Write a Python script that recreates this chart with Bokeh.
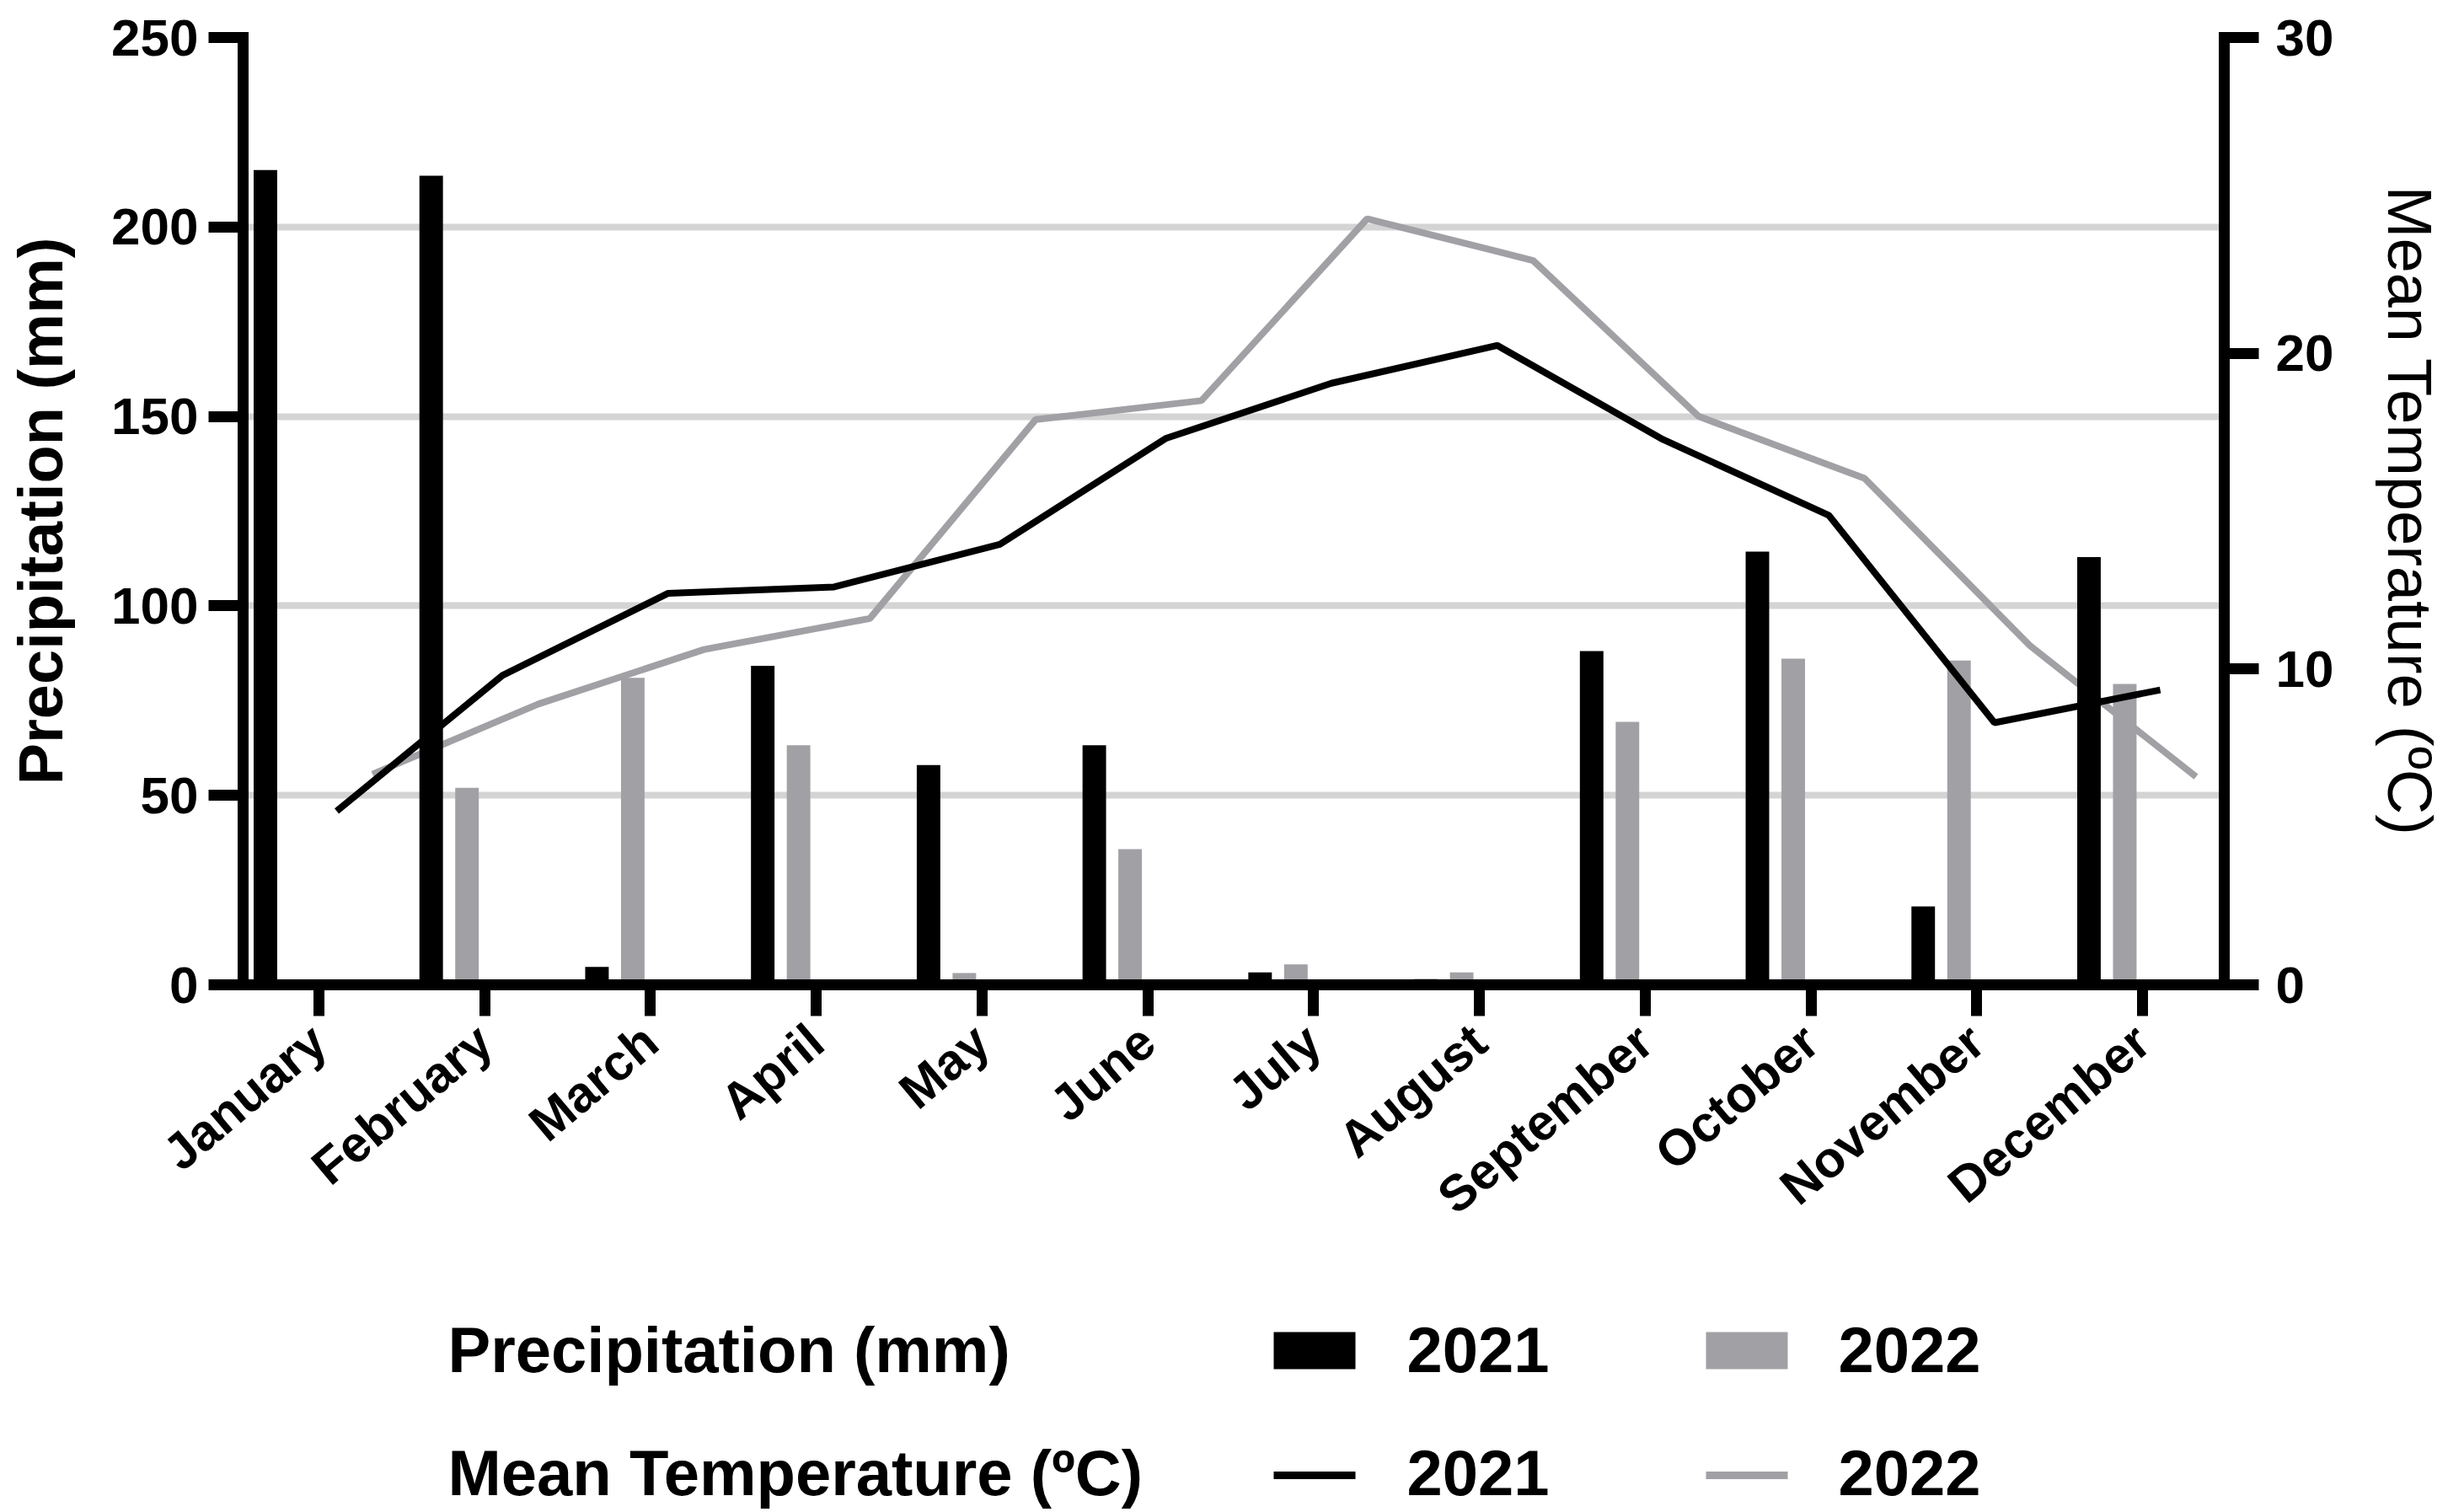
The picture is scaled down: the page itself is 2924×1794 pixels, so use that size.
from bokeh.plotting import figure
from bokeh.models import Range1d, LinearAxis, FixedTicker, ColumnDataSource
from bokeh.layouts import column
from bokeh.transform import dodge
from bokeh.embed import file_html
from bokeh.resources import INLINE
from bokeh.core.properties import value

# ---------------- data ----------------
months = ["January", "February", "March", "April", "May", "June",
          "July", "August", "September", "October", "November", "December"]
precip_2021 = [215.0, 213.5, 4.7, 84.2, 58.0, 63.2, 3.3, 1.5, 88.1, 114.3, 20.7, 112.9]
precip_2022 = [0.0, 52.0, 81.0, 63.2, 3.1, 35.8, 5.4, 3.3, 69.4, 86.1, 85.6, 79.4]
temp_2021 = [5.5, 9.8, 12.4, 12.6, 13.95, 17.3, 19.05, 20.25, 17.27, 14.87, 8.3, 9.34]
temp_2022 = [6.67, 8.89, 10.62, 11.6, 17.9, 18.5, 24.26, 22.94, 18.0, 16.04, 10.73, 6.59]
precip_ticks = [0, 50, 100, 150, 200, 250]
temp_ticks = [0, 10, 20, 30]
grid_ticks = [50, 100, 150, 200]
years = ["2021", "2022"]
legend_titles = ["Precipitation (mm)", "Mean Temperature (ºC)"]

# ---------------- style ----------------
FONT = "Liberation Sans"
BLACK = "#000000"
GRAY = "#a1a1a5"
GRID = "#d4d4d4"

W = 2916
H_MAIN = 1520
H_LEG = 270
B_LEFT, B_RIGHT, B_TOP = 288, 277, 44
B_BOTTOM = H_MAIN - 1168

src = ColumnDataSource(dict(x=list(range(len(months))),
                            p21=precip_2021, p22=precip_2022,
                            t21=temp_2021, t22=temp_2022))

p = figure(width=W, height=H_MAIN,
           x_range=Range1d(-0.4575, 11.493), y_range=Range1d(0, 250),
           output_backend="svg", toolbar_location=None,
           min_border_left=B_LEFT, min_border_right=B_RIGHT,
           min_border_top=B_TOP, min_border_bottom=B_BOTTOM)
p.outline_line_color = None
p.background_fill_color = "white"
p.border_fill_color = "white"
p.extra_y_ranges = {"temp": Range1d(0, 30)}

# gray temperature line (behind bars)
p.line(x=dodge("x", 0.323, range=p.x_range), y="t22", source=src,
       y_range_name="temp", line_color=GRAY, line_width=8)
# bars
p.vbar(x=dodge("x", -0.323, range=p.x_range), top="p21", width=0.142,
       source=src, fill_color=BLACK, line_color=None)
p.vbar(x=dodge("x", -0.107, range=p.x_range), top="p22", width=0.142,
       source=src, fill_color=GRAY, line_color=None)
# black temperature line
p.line(x=dodge("x", 0.107, range=p.x_range), y="t21", source=src,
       y_range_name="temp", line_color=BLACK, line_width=8)

# grid
p.xgrid.visible = False
p.ygrid.ticker = FixedTicker(ticks=grid_ticks)
p.ygrid.grid_line_color = GRID
p.ygrid.grid_line_width = 8


def style_axis(ax, tick_out, standoff, font_size="62px"):
    ax.axis_line_width = 13
    ax.axis_line_color = BLACK
    ax.axis_line_cap = "square"
    ax.major_tick_line_width = 13
    ax.major_tick_line_color = BLACK
    ax.major_tick_out = tick_out
    ax.major_tick_in = 0
    ax.minor_tick_out = 0
    ax.minor_tick_in = 0
    ax.major_label_text_font = FONT
    ax.major_label_text_font_style = "bold"
    ax.major_label_text_font_size = font_size
    ax.major_label_text_color = BLACK
    ax.major_label_standoff = standoff


# left axis
ly = p.yaxis[0]
ly.ticker = FixedTicker(ticks=precip_ticks)
style_axis(ly, 41, 12)
ly.axis_label = "Precipitation (mm)"
ly.axis_label_text_font = FONT
ly.axis_label_text_font_style = "bold"
ly.axis_label_text_font_size = "74px"
ly.axis_label_text_color = BLACK
ly.axis_label_standoff = 39

# right axis
ry = LinearAxis(y_range_name="temp", ticker=FixedTicker(ticks=temp_ticks))
style_axis(ry, 41, 20)
ry.axis_label = "Mean Temperature (ºC)"
ry.axis_label_text_font = FONT
ry.axis_label_text_font_style = "normal"
ry.axis_label_text_font_size = "74px"
ry.axis_label_text_color = BLACK
ry.axis_label_standoff = 46
p.add_layout(ry, "right")

# bottom axis
xa = p.xaxis[0]
xa.ticker = FixedTicker(ticks=list(range(len(months))))
xa.major_label_overrides = {i: m for i, m in enumerate(months)}
style_axis(xa, 37, 22, font_size="60px")
xa.major_label_orientation = 0.70

# ---------------- legend panel (page-pixel coordinates) ----------------
leg = figure(width=W, height=H_LEG,
             x_range=Range1d(B_LEFT, W - B_RIGHT),
             y_range=Range1d(H_MAIN + H_LEG, H_MAIN),
             output_backend="svg", toolbar_location=None,
             min_border=0, min_border_left=0, min_border_right=0,
             min_border_top=0, min_border_bottom=0,
             x_axis_location=None, y_axis_location=None)
leg.outline_line_color = None
leg.xgrid.visible = False
leg.ygrid.visible = False
leg.background_fill_color = "white"
leg.border_fill_color = "white"

title_x = 531
year_x = [1669, 2181]
swatch_l = [1511, 2024]
swatch_w = 97
row_mid = [1601, 1747]
line_y = 1750
colors = [BLACK, GRAY]

leg.text(x=[title_x, title_x], y=row_mid, text=legend_titles,
         text_font=value(FONT), text_font_style="bold", text_font_size="76px",
         text_baseline="middle", text_align="left", text_color=BLACK)
leg.text(x=year_x + year_x, y=[row_mid[0]] * 2 + [row_mid[1]] * 2,
         text=years + years,
         text_font=value(FONT), text_font_style="bold", text_font_size="76px",
         text_baseline="middle", text_align="left", text_color=BLACK)
leg.rect(x=[s + swatch_w / 2 for s in swatch_l], y=[1602] * 2,
         width=swatch_w, height=44, fill_color=colors, line_color=None)
leg.segment(x0=swatch_l, y0=[line_y] * 2,
            x1=[s + swatch_w for s in swatch_l], y1=[line_y] * 2,
            line_color=colors, line_width=9)

layout = column(p, leg, spacing=0)
open("out.html", "w").write(file_html(layout, INLINE))
